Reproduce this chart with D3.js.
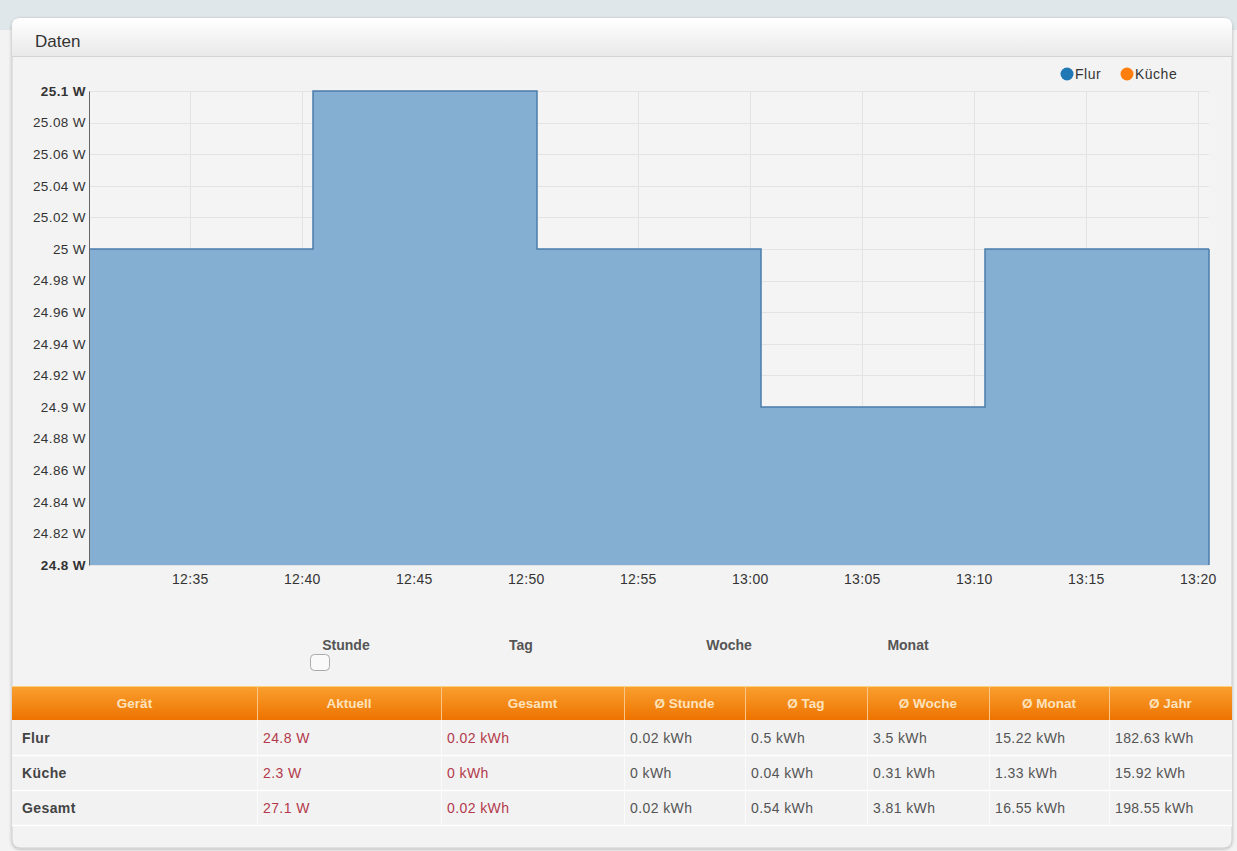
<!DOCTYPE html>
<html><head><meta charset="utf-8">
<script src="https://cdn.jsdelivr.net/npm/d3@7"></script>
<style>
html,body{margin:0;padding:0;background:#f2f2f2;}
svg{display:block;font-family:"Liberation Sans",Arial,sans-serif;}
</style></head>
<body>
<svg id="chart" width="1237" height="851"></svg>
<script>
// ---- data ----
const times = ["12:30:30","12:40:30","12:50:30","13:00:30","13:10:30","13:20:30"];
const flurValues = [25, 25.1, 25, 24.9, 25, 25];
const seriesNames = ["Flur","Küche"];
const seriesColors = ["#1f77b4","#ff7f0e"];
const yTicks = [24.8,24.82,24.84,24.86,24.88,24.9,24.92,24.94,24.96,24.98,25,25.02,25.04,25.06,25.08,25.1];
const xTickLabels = ["12:35","12:40","12:45","12:50","12:55","13:00","13:05","13:10","13:15","13:20"];
const periods = ["Stunde","Tag","Woche","Monat"];
const tableHeaders = ["Gerät","Aktuell","Gesamt","Ø Stunde","Ø Tag","Ø Woche","Ø Monat","Ø Jahr"];
const devices = ["Flur","Küche","Gesamt"];
const aktuell = ["24.8 W","2.3 W","27.1 W"];
const gesamt = ["0.02 kWh","0 kWh","0.02 kWh"];
const avgStunde = ["0.02 kWh","0 kWh","0.02 kWh"];
const avgTag = ["0.5 kWh","0.04 kWh","0.54 kWh"];
const avgWoche = ["3.5 kWh","0.31 kWh","3.81 kWh"];
const avgMonat = ["15.22 kWh","1.33 kWh","16.55 kWh"];
const avgJahr = ["182.63 kWh","15.92 kWh","198.55 kWh"];

// ---- layout ----
const svg = d3.select("#chart");
const parse = d3.timeParse("%H:%M:%S");
const data = times.map((t,i)=>({t:parse(t), v:flurValues[i]}));

const defs = svg.append("defs");
const hg = defs.append("linearGradient").attr("id","hdr").attr("x1",0).attr("y1",0).attr("x2",0).attr("y2",1);
hg.append("stop").attr("offset","0%").attr("stop-color","#ffffff");
hg.append("stop").attr("offset","100%").attr("stop-color","#e9e9e9");
const og = defs.append("linearGradient").attr("id","org").attr("x1",0).attr("y1",0).attr("x2",0).attr("y2",1);
og.append("stop").attr("offset","0%").attr("stop-color","#f9a030");
og.append("stop").attr("offset","100%").attr("stop-color","#ee7300");
const sh = defs.append("filter").attr("id","sh").attr("x","-5%").attr("y","-5%").attr("width","110%").attr("height","110%");
sh.append("feDropShadow").attr("dx",0).attr("dy",1).attr("stdDeviation",1.5).attr("flood-color","#000").attr("flood-opacity",0.25);

// page background
svg.append("rect").attr("width",1237).attr("height",851).attr("fill","#f3f3f3");
svg.append("rect").attr("width",1237).attr("height",30).attr("fill","#dfe7ea");

// panel
svg.append("rect").attr("x",12).attr("y",18).attr("width",1220).attr("height",830).attr("rx",8)
  .attr("fill","#f3f3f3").attr("stroke","#cfcfcf").attr("filter","url(#sh)");
svg.append("path").attr("d","M12,56 L12,26 Q12,18 20,18 L1224,18 Q1232,18 1232,26 L1232,56 Z")
  .attr("fill","url(#hdr)");
svg.append("line").attr("x1",12).attr("x2",1232).attr("y1",56.5).attr("y2",56.5).attr("stroke","#d4d4d4");
svg.append("text").attr("x",35).attr("y",47).attr("font-size",17).attr("fill","#333").text("Daten");

// scales
const x = d3.scaleTime().domain(d3.extent(data,d=>d.t)).range([89,1209]);
const y = d3.scaleLinear().domain([24.8,25.1]).range([565,91]);

const plot = svg.append("g");
plot.append("rect").attr("x",89).attr("y",91).attr("width",1120).attr("height",474).attr("fill","#f4f4f4");

// grid
const xTicks = xTickLabels.map(s=>parse(s+":00"));
plot.append("g").selectAll("line").data(yTicks).join("line")
  .attr("x1",89).attr("x2",1209).attr("y1",d=>Math.round(y(d))+0.5).attr("y2",d=>Math.round(y(d))+0.5)
  .attr("stroke","#e3e3e3");
plot.append("g").selectAll("line").data(xTicks).join("line")
  .attr("y1",91).attr("y2",565).attr("x1",d=>Math.round(x(d))+0.5).attr("x2",d=>Math.round(x(d))+0.5)
  .attr("stroke","#e3e3e3");

// area
const area = d3.area().x(d=>x(d.t)).y0(y(24.8)).y1(d=>y(d.v)).curve(d3.curveStepAfter);
const line = d3.line().x(d=>x(d.t)).y(d=>y(d.v)).curve(d3.curveStepAfter);
plot.append("path").datum(data).attr("d",area).attr("fill","#84afd3");
plot.append("path").datum(data).attr("d",line).attr("fill","none").attr("stroke","#4a7eab").attr("stroke-width",1.5);
plot.append("line").attr("x1",1209).attr("x2",1209).attr("y1",y(25)).attr("y2",565).attr("stroke","#4a7eab").attr("stroke-width",1.5);

// y axis
const yAxis = d3.axisLeft(y).tickValues(yTicks).tickSize(0).tickPadding(3)
  .tickFormat(d=>d3.format("~g")(+d.toFixed(2))+" W");
const ya = svg.append("g").attr("transform","translate(89,0)").call(yAxis);
ya.select(".domain").attr("stroke","#666");
ya.selectAll("text").attr("font-size",13.5).attr("letter-spacing",0.4).attr("fill","#333").attr("font-family","Liberation Sans, Arial, sans-serif")
  .attr("font-weight",(d,i)=>(i===0||i===yTicks.length-1)?"bold":"normal");

// x axis
const xAxis = d3.axisBottom(x).tickValues(xTicks).tickSize(0).tickPadding(9)
  .tickFormat((d,i)=>xTickLabels[i]);
const xa = svg.append("g").attr("transform","translate(0,565)").call(xAxis);
xa.select(".domain").remove();
xa.selectAll("text").attr("font-size",14).attr("letter-spacing",0.3).attr("fill","#333").attr("font-family","Liberation Sans, Arial, sans-serif");

// legend
const legX = [1067,1127];
const leg = svg.append("g").selectAll("g").data(seriesNames).join("g")
  .attr("transform",(d,i)=>`translate(${legX[i]},74)`);
leg.append("circle").attr("r",6.5).attr("fill",(d,i)=>seriesColors[i]);
leg.append("text").attr("x",8).attr("y",5).attr("font-size",14).attr("letter-spacing",0.5).attr("fill","#333").text(d=>d);

// period labels
const periodX = [346,521,729,908];
svg.append("g").selectAll("text").data(periods).join("text")
  .attr("x",(d,i)=>periodX[i]).attr("y",650).attr("text-anchor","middle")
  .attr("font-size",14).attr("font-weight","bold").attr("fill","#555").text(d=>d);
svg.append("rect").attr("x",310.5).attr("y",654.5).attr("width",19).attr("height",16).attr("rx",4)
  .attr("fill","#fafafa").attr("stroke","#aaa");

// table
const colX = [12,257,441,624,745,867,989,1109,1232];
const cols = [devices,aktuell,gesamt,avgStunde,avgTag,avgWoche,avgMonat,avgJahr];
const tb = svg.append("g");
tb.append("rect").attr("x",12).attr("y",686).attr("width",1220).attr("height",34).attr("fill","url(#org)");
tb.append("line").attr("x1",12).attr("x2",1232).attr("y1",686.5).attr("y2",686.5).attr("stroke","#fbd27a");
tb.selectAll(".hdiv").data(colX.slice(1,-1)).join("line")
  .attr("x1",d=>d+0.5).attr("x2",d=>d+0.5).attr("y1",686).attr("y2",720).attr("stroke","#f8c68a");
tb.selectAll(".htxt").data(tableHeaders).join("text")
  .attr("x",(d,i)=>(colX[i]+colX[i+1])/2).attr("y",708).attr("text-anchor","middle")
  .attr("font-size",13.5).attr("font-weight","bold").attr("fill","#fde3bd").text(d=>d);
const rowY = [720,755,790];
tb.selectAll(".rowbg").data(rowY).join("rect")
  .attr("x",12).attr("y",d=>d).attr("width",1220).attr("height",35).attr("fill","#f2f2f2");
tb.selectAll(".rowsep").data(rowY.slice(1).concat([825])).join("line")
  .attr("x1",12).attr("x2",1232).attr("y1",d=>d+0.5).attr("y2",d=>d+0.5).attr("stroke","#ffffff").attr("stroke-width",1.5);
tb.selectAll(".cdiv").data(colX.slice(1,-1)).join("line")
  .attr("x1",d=>d+0.5).attr("x2",d=>d+0.5).attr("y1",720).attr("y2",825).attr("stroke","#fbfbfb");
cols.forEach((col,ci)=>{
  tb.append("g").selectAll("text").data(col).join("text")
    .attr("x",colX[ci]+(ci===0?10:6)).attr("y",(d,ri)=>rowY[ri]+23)
    .attr("font-size",14).attr("letter-spacing",0.4)
    .attr("font-weight",ci===0?"bold":"normal")
    .attr("fill",ci===0?"#444":(ci<=2?"#b23a4c":"#555"))
    .text(d=>d);
});
</script>
</body></html>
